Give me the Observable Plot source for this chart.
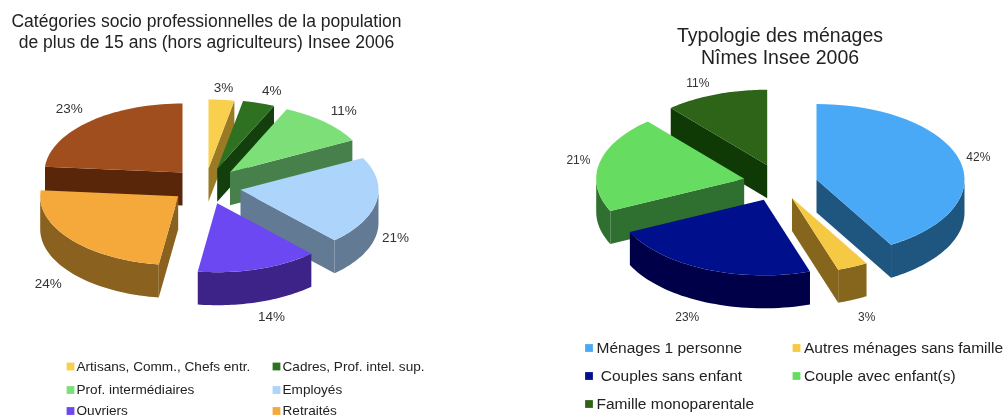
<!DOCTYPE html>
<html><head><meta charset="utf-8">
<script src="https://cdn.jsdelivr.net/npm/d3@7"></script>
<script src="https://cdn.jsdelivr.net/npm/@observablehq/plot@0.6"></script>
<style>html,body{margin:0;padding:0;background:#fff;overflow:hidden}svg{display:block;filter:blur(0.4px)}</style>
</head><body><div id="chart"></div>
<script>
// ---- data ----
const csCategories = ["Artisans, Comm., Chefs entr.","Cadres, Prof. intel. sup.","Prof. intermédiaires","Employés","Ouvriers","Retraités"," "];
const csValues = [3, 3.75, 10.6, 20.7, 14.2, 24.1, 23.65];
const csLabels = ["3%","4%","11%","21%","14%","24%","23%"];
const csColors = ["#f8d04e","#2e7120","#7ddf78","#add4fa","#6c48f2","#f5a93b","#a04e1d"];
const csSides  = ["#9a7a25","#123f0c","#47804a","#627a94","#3d2287","#8a611f","#59260a"];

const mnCategories = ["Ménages 1 personne","Autres ménages sans famille","\u00a0Couples sans enfant","Couple avec enfant(s)","Famille monoparentale"];
const mnValues = [41.6, 3.35, 23.05, 20.7, 11.3];
const mnLabels = ["42%","3%","23%","21%","11%"];
const mnColors = ["#4aa9f6","#f6c945","#000f8c","#66dd60","#2d6418"];
const mnSides  = ["#1f5680","#85661c","#000048","#2f7030","#0f3a06"];

const titleLeft = ["Catégories socio professionnelles de la population","de plus de 15 ans (hors agriculteurs) Insee 2006"];
const titleRight = ["Typologie des ménages","Nîmes Insee 2006"];

// ---- layout ----
const pies = [
  {values: csValues, labels: csLabels, colors: csColors, sides: csSides, rx: 138, ry: 69, depth: 33, fontSize: 13.5,
   apex: [[208,168],[216.7,168.3],[229.5,171.7],[240,189.3],[216.7,202.7],[177.7,195.7],[182,172]],
   labelOffset: [[2,-12],[13,-12.5],[19,-11.5],[19,36],[13,47.5],[-22,44],[-20,-13]],
   order: [6,0,1,2,3,4,5]},
  {values: mnValues, labels: mnLabels, colors: mnColors, sides: mnSides, rx: 148, ry: 75.5, depth: 33, fontSize: 12,
   apex: [[816,179],[791.5,197.5],[763.3,199.3],[743.7,178.3],[766.7,164.7]],
   labelOffset: [[19,-3],[14,50],[-18,48],[-21,-3],[-18,-11]],
   order: [4,0,3,2,1]}
];
const rad = d => d * Math.PI / 180;

const polys = [], labelRows = [];
pies.forEach((p, pi) => {
  const total = d3.sum(p.values);
  const cum = d3.cumsum(p.values).map(v => v / total * 360);
  const slices = p.values.map((v, i) => {
    const [cx, cy] = p.apex[i];
    const a0 = i ? cum[i-1] : 0, a1 = cum[i];
    const pt = (a, dz = 0) => [cx + p.rx * Math.sin(rad(a)), cy - p.ry * Math.cos(rad(a)) + dz];
    const arc = (from, to, dz = 0) => d3.range(0, 41).map(k => pt(from + (to - from) * k / 40, dz));
    return {i, cx, cy, a0, a1, pt, arc};
  });
  p.order.forEach(i => {
    const s = slices[i], {cx, cy, a0, a1, pt, arc} = s, d = p.depth;
    const add = (name, pts, color) => pts.forEach(([x, y]) => polys.push({id: `${pi}-${i}-${name}`, x, y, color}));
    // radial walls facing the viewer
    if (Math.sin(rad(a0)) < -0.001) add("w0", [[cx,cy],pt(a0),pt(a0,d),[cx,cy+d]], p.sides[i]);
    if (Math.sin(rad(a1)) > 0.001) add("w1", [[cx,cy],pt(a1),pt(a1,d),[cx,cy+d]], p.sides[i]);
    // outer wall, lower half of the ellipse
    const lo = Math.max(a0, 90), hi = Math.min(a1, 270);
    if (hi > lo) add("o", [...arc(lo, hi), ...arc(hi, lo, d)], p.sides[i]);
    // top face
    add("t", [[cx,cy], ...arc(a0, a1)], p.colors[i]);
    const [mx, my] = pt((a0 + a1) / 2), [dx, dy] = p.labelOffset[i];
    labelRows.push({x: mx + dx, y: my + dy, text: p.labels[i], size: p.fontSize});
  });
});

const titles = [
  ...titleLeft.map((text, i) => ({text, x: 206, y: 20.5 + i * 21.5, size: 17.5})),
  ...titleRight.map((text, i) => ({text, x: 779.5, y: 35 + i * 22, size: 19.5}))
];

const legends = [
  {names: csCategories.slice(0,6), colors: csColors, cols: [70, 276], rowY: [366, 389.5, 410.5], size: 13.6, gap: 6, per: 2},
  {names: mnCategories, colors: mnColors, cols: [588.5, 796], rowY: [347.5, 375.5, 403.5], size: 15.5, gap: 7.5, per: 2}
];
const legendRows = legends.flatMap(l => l.names.map((name, i) => ({
  name, color: l.colors[i], size: l.size, gap: l.gap,
  x: l.cols[i % l.per], y: l.rowY[Math.floor(i / l.per)]
})));

const textBySize = (rows, x, text, fill, extra = {}) =>
  [...new Set(rows.map(d => d.size))].map(size =>
    Plot.text(rows.filter(d => d.size === size), {x, y: "y", text, fontSize: size, fill, ...extra}));

const chart = Plot.plot({
  width: 1008, height: 418, margin: 0,
  x: {domain: [0, 1008], range: [0, 1008], axis: null},
  y: {domain: [0, 418], range: [0, 418], axis: null},
  color: {type: "identity"},
  style: {fontFamily: "'Liberation Sans', Arial, sans-serif", background: "#fff"},
  marks: [
    Plot.line(polys, {x: "x", y: "y", z: "id", fill: "color", stroke: "none", curve: "linear"}),
    ...textBySize(labelRows, "x", "text", "#333"),
    ...textBySize(titles, "x", "text", "#222"),
    Plot.dot(legendRows, {x: "x", y: "y", fill: "color", symbol: "square", r: 4.4}),
    ...textBySize(legendRows, d => d.x + d.gap, "name", "#222", {textAnchor: "start"})
  ]
});
document.getElementById("chart").append(chart);
</script></body></html>
